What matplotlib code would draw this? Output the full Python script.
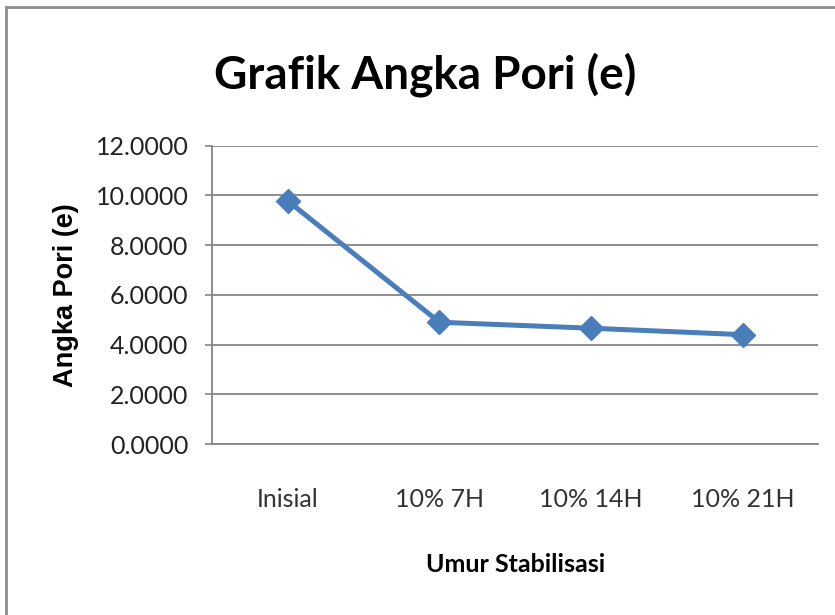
import matplotlib
matplotlib.use("Agg")
import matplotlib.pyplot as plt
from matplotlib.patches import Rectangle

plt.rcParams['font.family'] = ['Lato', 'DejaVu Sans']

# data
kategori = ['Inisial', '10% 7H', '10% 14H', '10% 21H']
angka_pori = [9.78, 4.90, 4.66, 4.40]
y_ticks = [0, 2, 4, 6, 8, 10, 12]

fig = plt.figure(figsize=(8.35, 6.15), dpi=100)
ax = fig.add_axes([0.254, 0.278, 0.726, 0.485])

x = list(range(len(kategori)))
ax.plot(x, angka_pori, color='#4a7ebb', linewidth=3.6, marker='D',
        markersize=12, markerfacecolor='#4a7ebb', markeredgecolor='#4a7ebb')

ax.set_xlim(-0.5, len(kategori) - 0.5)
ax.set_ylim(0, 12)
ax.set_yticks(y_ticks)
ax.set_yticklabels([f"{v:.4f}" for v in y_ticks], fontsize=18, color='#222222')
ax.set_xticks(x)
ax.set_xticklabels(kategori, fontsize=18, color='#333333')
ax.tick_params(axis='x', length=0, pad=32)
ax.tick_params(axis='y', length=5, width=1.2, color='#868686', pad=12)

ax.grid(axis='y', color='#868686', linewidth=1.3)
ax.set_axisbelow(True)
for s in ['top', 'right']:
    ax.spines[s].set_visible(False)
ax.spines['left'].set_color('#868686')
ax.spines['left'].set_linewidth(1.3)
ax.spines['bottom'].set_color('#868686')
ax.spines['bottom'].set_linewidth(1.3)

ax.set_xlabel('Umur Stabilisasi', fontsize=18, fontweight='bold', labelpad=30)
ax.set_ylabel('Angka Pori (e)', fontsize=19.5, fontweight='bold', labelpad=12,
              family=['Liberation Sans', 'DejaVu Sans'])

fig.text(0.509, 0.878, 'Grafik Angka Pori (e)', fontsize=33, fontweight='bold',
         ha='center', va='center')

# outer chart border
fig.patches.append(Rectangle((6 / 835, -0.02), 1.02, 1 - 7 / 615 + 0.02,
                             transform=fig.transFigure, fill=False,
                             edgecolor='#8c8c8c', linewidth=2))

fig.savefig('out.png', dpi=100)
